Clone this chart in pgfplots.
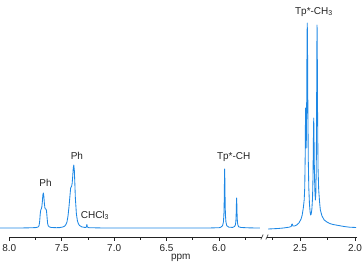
\documentclass[border=0pt]{standalone}
\usepackage{pgfplots}
\pgfplotsset{compat=1.18}
\usepackage{fontspec}
\setmainfont{Liberation Sans}
\definecolor{spec}{RGB}{30,136,229}
\definecolor{ink}{RGB}{35,35,35}

% 1H NMR spectrum, drawn on two axis segments with a break between them
\pgfplotstableread{
ppm int
8.09 0
7.90 0
7.80 0.2
7.75 0.4
7.73 0.8
7.72 1.5
7.715 3
7.71 7
7.705 14
7.70 18
7.695 19
7.69 21
7.685 26
7.68 33
7.675 35
7.67 31
7.665 24
7.66 20
7.655 19
7.65 19
7.645 17
7.64 11
7.635 5
7.63 2.5
7.62 1.2
7.60 0.5
7.55 0.3
7.52 0.4
7.49 1
7.47 2
7.46 3.5
7.45 6
7.44 12
7.43 22
7.42 34
7.415 40
7.41 41
7.405 42
7.40 45
7.395 52
7.39 60
7.385 63
7.38 58
7.375 45
7.37 30
7.36 14
7.35 7
7.34 4
7.33 2.5
7.31 1.2
7.29 0.7
7.27 0.5
7.265 1
7.26 3.5
7.255 1
7.24 0.3
7.10 0
6.50 0
6.10 0
6.00 0.3
5.986 0.6
5.966 2.3
5.958 6
5.954 12
5.952 18
5.950 29.5
5.948 47
5.946 59
5.944 47
5.942 29.5
5.940 18
5.938 12
5.934 6
5.926 2.3
5.906 0.8
5.870 0.6
5.852 1.5
5.844 3
5.840 6
5.838 9
5.836 15
5.834 24
5.832 30
5.830 24
5.828 15
5.826 9
5.824 6
5.820 3
5.812 1.2
5.790 0.5
5.700 0.1
5.610 0
}\lefttable

\pgfplotstableread{
ppm int
2.79 -1
2.75 -0.8
2.70 -0.5
2.65 0
2.60 0.8
2.58 1.5
2.575 3.5
2.57 4
2.565 2
2.55 2
2.53 3
2.51 5
2.50 7
2.49 9
2.48 13
2.47 20
2.462 28
2.457 40
2.453 70
2.451 100
2.449 120
2.447 105
2.444 80
2.441 95
2.438 150
2.436 190
2.434 205
2.432 190
2.429 130
2.425 70
2.420 40
2.414 24
2.408 16
2.403 13
2.398 14
2.392 19
2.386 30
2.382 50
2.379 80
2.377 100
2.375 110
2.373 95
2.369 55
2.364 35
2.360 28
2.356 35
2.352 60
2.349 120
2.347 175
2.345 203
2.343 180
2.340 110
2.336 60
2.330 38
2.322 26
2.315 18
2.300 12
2.280 8
2.255 6
2.230 4.5
2.200 3.5
2.150 2.5
2.100 1.5
2.050 0.8
1.990 0.5
}\righttable

\pgfplotsset{
  nmr/.style={
    scale only axis, clip=false,
    x dir=reverse,
    axis x line*=bottom, axis y line=none,
    x axis line style={ink, line width=0.8pt, -},
    ymin=-9, ymax=218, height=227pt,
    tick align=outside,
    major tick length=4pt, minor tick length=3pt,
    every tick/.style={ink, line width=0.6pt},
    tick label style={font=\fontsize{10}{12}\selectfont, text=ink},
    /pgf/number format/fixed,
    /pgf/number format/fixed zerofill,
    /pgf/number format/precision=1,
    /pgf/number format/assume math mode=true,
  },
  spectrum/.style={spec, line width=0.85pt, no markers, line join=round},
}
\tikzset{peaklabel/.style={font=\fontsize{10}{12}\selectfont, text=ink, inner sep=0pt}}

\begin{document}
\begin{tikzpicture}[x=1pt,y=1pt]
\useasboundingbox (0,0) rectangle (362,265);

\begin{axis}[nmr, at={(9.3pt,28pt)}, anchor=south west, width=252.7pt,
  xmin=5.59, xmax=8.0,
  xtick={6.0,6.5,7.0,7.5,8.0},
  minor xtick={5.75,6.25,6.75,7.25,7.75}]
  \addplot[spectrum] table[x=ppm, y=int] {\lefttable};
  \node[peaklabel] at (axis cs:7.655,45) {Ph};
  \node[peaklabel] at (axis cs:7.355,72) {Ph};
  \node[peaklabel] at (axis cs:7.183,12.5) {CHCl\textsubscript{3}};
  \node[peaklabel] at (axis cs:5.86,71) {Tp*-CH};
  \node[peaklabel] at (axis cs:6.365,-30) {ppm};
  % break mark at the end of the left segment
  \draw[ink, line width=0.6pt] ([xshift=-1.2pt,yshift=-2.5pt]axis cs:5.59,-9) -- ([xshift=1.2pt,yshift=2.5pt]axis cs:5.59,-9);
\end{axis}

\begin{axis}[nmr, at={(267pt,28pt)}, anchor=south west, width=90.2pt,
  xmin=1.98, xmax=2.8,
  xtick={2.0,2.5},
  minor xtick={2.25,2.75}]
  \addplot[spectrum] table[x=ppm, y=int] {\righttable};
  \node[peaklabel] at (axis cs:2.373,216) {Tp*-CH\textsubscript{3}};
  % break mark at the start of the right segment
  \draw[ink, line width=0.6pt] ([xshift=-1.2pt,yshift=-2.5pt]axis cs:2.8,-9) -- ([xshift=1.2pt,yshift=2.5pt]axis cs:2.8,-9);
\end{axis}
\end{tikzpicture}
\end{document}
